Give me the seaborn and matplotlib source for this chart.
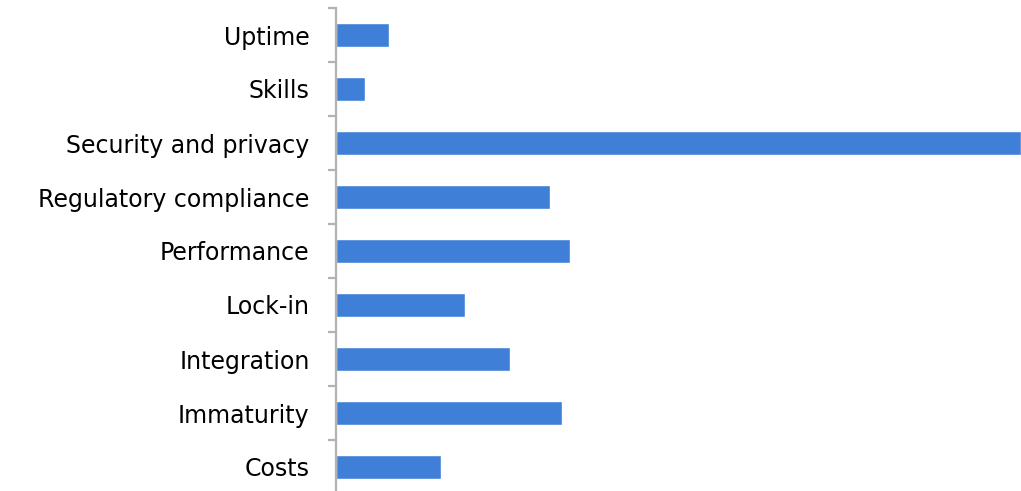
import seaborn as sns
import matplotlib.pyplot as plt
import pandas as pd
import numpy as np

# concern categories, top to bottom
concerns = ['Uptime', 'Skills', 'Security and privacy', 'Regulatory compliance',
            'Performance', 'Lock-in', 'Integration', 'Immaturity', 'Costs']
# relative share (security = 100)
scores = [7.7, 4.2, 100, 31.3, 34.2, 18.9, 25.4, 33.0, 15.4]

df = pd.DataFrame({'concern': concerns, 'score': scores})

sns.set_style('white')
plt.rcParams['font.family'] = ['DejaVu Sans']

fig = plt.figure(figsize=(10.21, 4.91), dpi=100)
ax = fig.add_axes([336 / 1021, -3 / 491, 685 / 1021, 486 / 491])

sns.barplot(data=df, x='score', y='concern', orient='h', color='#3f7fd8',
            saturation=1, width=0.43, ax=ax)

ax.set_xlim(0, 100)
ax.set_ylim(len(concerns) - 0.5, -0.5)
ax.set_xlabel('')
ax.set_ylabel('')
ax.set_xticks([])

for s in ['top', 'right', 'bottom']:
    ax.spines[s].set_visible(False)
ax.spines['left'].set_color('#b3b3b3')
ax.spines['left'].set_linewidth(1.6)

# ticks at category boundaries, labels at centers
ax.set_yticks(np.arange(-0.5, len(concerns), 1), minor=True)
ax.tick_params(axis='y', which='minor', length=6, width=1.6, color='#b3b3b3', left=True)
ax.tick_params(axis='y', which='major', length=0, pad=19, labelsize=17,
               labelcolor='black')

fig.savefig('out.png', dpi=100)
